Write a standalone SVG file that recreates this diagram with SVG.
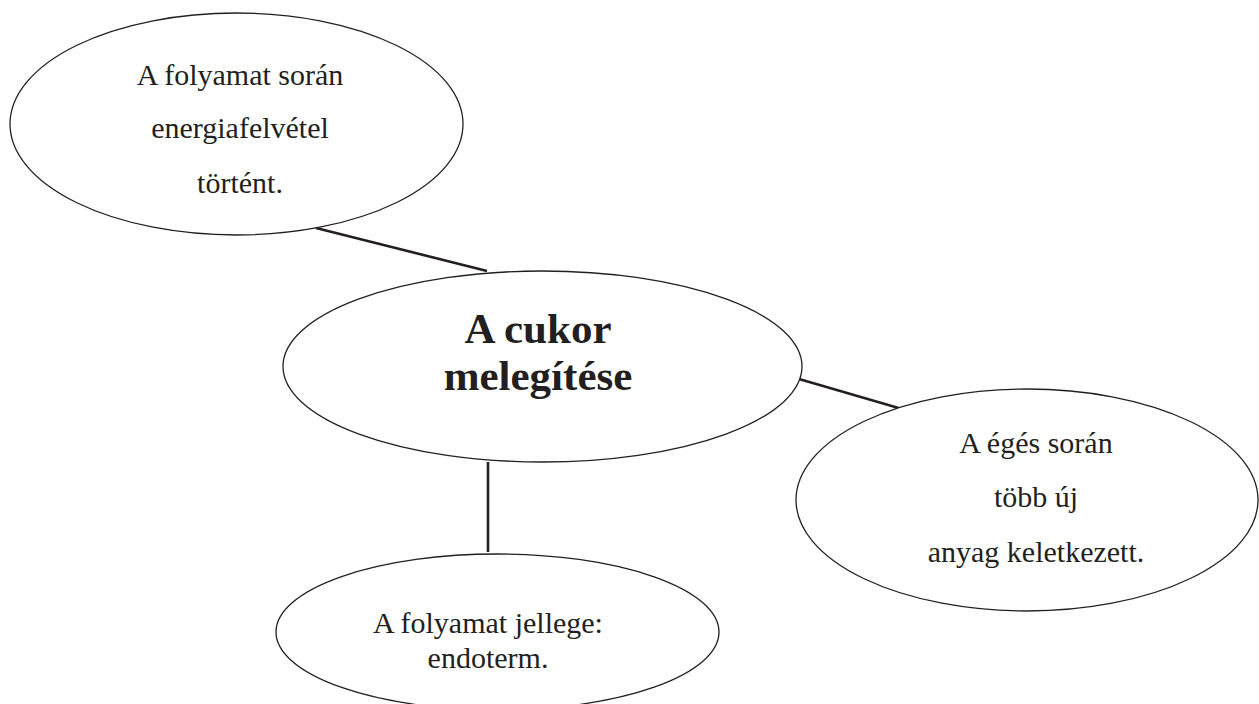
<svg xmlns="http://www.w3.org/2000/svg" width="1259" height="704" viewBox="0 0 1259 704">
<style>
.node{fill:#ffffff;stroke:#231f20;stroke-width:1.3}
.t{font-family:"Liberation Serif","Times New Roman",serif;font-size:30px;fill:#231f20;text-anchor:middle}
.tb{font-family:"Liberation Serif","Times New Roman",serif;font-size:43px;font-weight:bold;fill:#231f20;text-anchor:middle}
.conn line{stroke:#231f20;stroke-width:2.6}
</style>
<rect width="1259" height="704" fill="#ffffff"/>
<g id="connectors" class="conn">
<line x1="316" y1="228" x2="487" y2="271"/>
<line x1="799" y1="379" x2="902" y2="409"/>
<line x1="488" y1="462" x2="488" y2="552"/>
</g>
<g id="node-top">
<ellipse class="node" cx="236.5" cy="124" rx="226.5" ry="111"/>
<text class="t" x="240" y="85">A folyamat során</text>
<text class="t" x="240" y="138">energiafelvétel</text>
<text class="t" x="240" y="193">történt.</text>
</g>
<g id="node-center">
<ellipse class="node" cx="542.5" cy="366.5" rx="259.5" ry="95.5"/>
<text class="tb" x="538" y="343">A cukor</text>
<text class="tb" x="538" y="390">melegítése</text>
</g>
<g id="node-right">
<ellipse class="node" cx="1027" cy="500" rx="231" ry="111"/>
<text class="t" x="1036" y="453">A égés során</text>
<text class="t" x="1036" y="507">több új</text>
<text class="t" x="1036" y="562">anyag keletkezett.</text>
</g>
<g id="node-bottom">
<ellipse class="node" cx="497.5" cy="632" rx="221.5" ry="78"/>
<text class="t" x="488" y="633">A folyamat jellege:</text>
<text class="t" x="488" y="668">endoterm.</text>
</g>
</svg>
